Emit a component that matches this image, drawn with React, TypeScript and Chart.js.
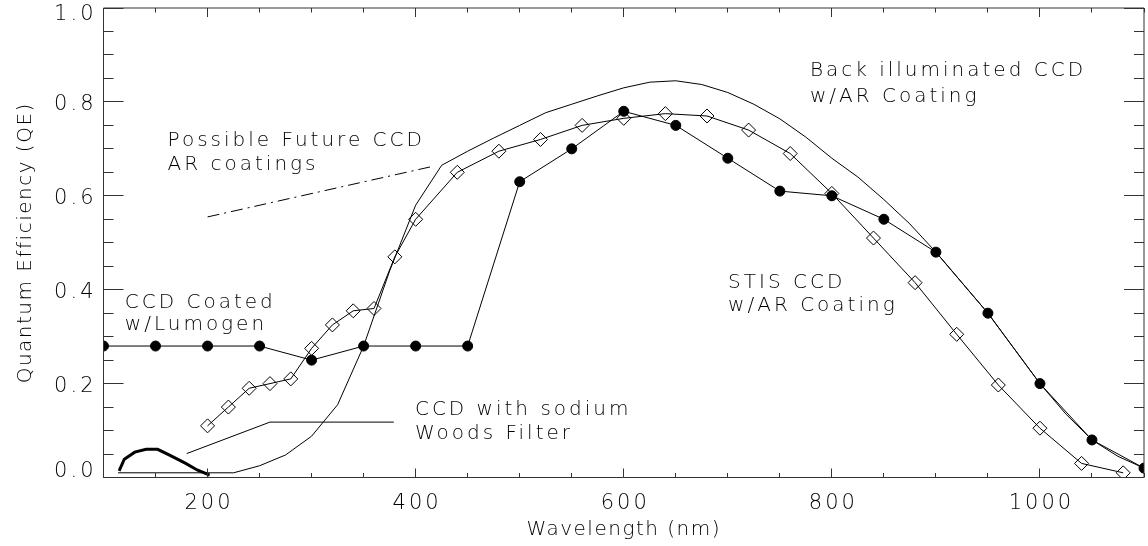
import React, { useEffect, useRef } from 'react';
import { Chart, registerables } from 'chart.js';

Chart.register(...registerables);

// ---- Data (wavelength in nm, QE as fraction) ----
const stisWavelength = [100, 150, 200, 250, 300, 350, 400, 450, 500, 550, 600, 650, 700, 750, 800, 850, 900, 950, 1000, 1050, 1100];
const stisQE = [0.28, 0.28, 0.28, 0.28, 0.25, 0.28, 0.28, 0.28, 0.63, 0.70, 0.78, 0.75, 0.68, 0.61, 0.60, 0.55, 0.48, 0.35, 0.20, 0.08, 0.02];

const lumogenWavelength = [200, 220, 240, 260, 280, 300, 320, 340, 360, 380, 400, 440, 480, 520, 560, 600, 640, 680, 720, 760, 800, 840, 880, 920, 960, 1000, 1040, 1080];
const lumogenQE = [0.11, 0.15, 0.19, 0.20, 0.21, 0.275, 0.325, 0.355, 0.36, 0.47, 0.55, 0.65, 0.695, 0.72, 0.75, 0.765, 0.775, 0.77, 0.74, 0.69, 0.605, 0.51, 0.415, 0.305, 0.197, 0.105, 0.03, 0.01];

const backIllumWavelength = [114, 225, 250, 275, 300, 325, 350, 375, 400, 425, 450, 475, 500, 525, 550, 575, 600, 625, 650, 675, 700, 725, 750, 775, 800, 825, 850, 875, 900, 925, 950, 975, 1000, 1025, 1050, 1075, 1100];
const backIllumQE = [0.01, 0.01, 0.025, 0.048, 0.088, 0.155, 0.28, 0.44, 0.58, 0.665, 0.695, 0.723, 0.75, 0.777, 0.795, 0.813, 0.83, 0.842, 0.845, 0.837, 0.82, 0.795, 0.764, 0.725, 0.68, 0.64, 0.592, 0.54, 0.48, 0.415, 0.35, 0.275, 0.20, 0.135, 0.08, 0.045, 0.02];

const woodsWavelength = [115, 120, 130, 141, 152, 163, 179, 190, 202];
const woodsQE = [0.014, 0.039, 0.054, 0.060, 0.060, 0.048, 0.030, 0.016, 0.005];

const futureWavelength = [200, 417];
const futureQE = [0.555, 0.663];

const woodsLeaderWavelength = [180, 260, 379];
const woodsLeaderQE = [0.051, 0.118, 0.118];

const xMin = 100;
const xMax = 1100;
const xLabelStep = 200;
const xTickStep = 100;
const xMinorStep = 50;
const yMin = 0;
const yMax = 1;
const yMajorStep = 0.2;
const yMinorStep = 0.05;

const xTitle = 'Wavelength (nm)';
const yTitle = 'Quantum Efficiency (QE)';

const annotationTexts = ['Possible Future CCD', 'AR coatings', 'Back illuminated CCD', 'w/AR Coating', 'CCD Coated', 'w/Lumogen', 'STIS CCD', 'w/AR Coating', 'CCD with sodium', 'Woods Filter'];
const annotationWavelength = [161.6, 161.6, 778.9, 778.9, 120.5, 120.5, 700.3, 700.3, 399.3, 399.3];
const annotationQE = [0.717, 0.6656, 0.8652, 0.81, 0.3726, 0.326, 0.4151, 0.3652, 0.1433, 0.0934];

// ---- Styling ----
const FAMILY = '"DejaVu Sans", "Liberation Sans", sans-serif';
const TEXT_COLOR = '#000';
const FRAME_COLOR = '#333';

const pts = (xs: number[], ys: number[]) => xs.map((x, i) => ({ x, y: ys[i] }));

const spacingPlugin = {
  id: 'letterSpacing',
  beforeDraw(chart: any) {
    chart.ctx.letterSpacing = '1.5px'; // axis titles
  },
  beforeDatasetsDraw(chart: any) {
    chart.ctx.letterSpacing = '3px'; // tick labels (drawn after datasets)
  },
  afterDraw(chart: any) {
    chart.ctx.letterSpacing = '0px';
  },
};

const framePlugin = {
  id: 'idlFrame',
  afterDatasetsDraw(chart: any) {
    const { ctx, chartArea, scales } = chart;
    const { left, right, top, bottom } = chartArea;
    const xs = scales.x;
    const ys = scales.y;
    ctx.save();
    ctx.strokeStyle = FRAME_COLOR;
    ctx.lineWidth = 1;
    ctx.beginPath();
    ctx.rect(left, top, right - left, bottom - top);
    const nY = Math.round((yMax - yMin) / yMinorStep);
    for (let i = 0; i <= nY; i++) {
      const v = yMin + i * yMinorStep;
      const major = Math.abs(v / yMajorStep - Math.round(v / yMajorStep)) < 1e-6;
      const len = major ? 20 : 10;
      const py = Math.floor(ys.getPixelForValue(v)) + 0.5;
      ctx.moveTo(left, py);
      ctx.lineTo(left + len, py);
      ctx.moveTo(right, py);
      ctx.lineTo(right - len, py);
    }
    const nX = Math.round((xMax - xMin) / xMinorStep);
    for (let i = 0; i <= nX; i++) {
      const v = xMin + i * xMinorStep;
      const major = v % xLabelStep === 0;
      const len = major ? 9 : 4.5;
      const px = Math.floor(xs.getPixelForValue(v)) + 0.5;
      ctx.moveTo(px, bottom);
      ctx.lineTo(px, bottom - len);
      ctx.moveTo(px, top);
      ctx.lineTo(px, top + len);
    }
    ctx.stroke();
    ctx.restore();
  },
};

const annotationPlugin = {
  id: 'textNotes',
  afterDraw(chart: any) {
    const { ctx, scales } = chart;
    ctx.save();
    ctx.letterSpacing = '3px';
    ctx.font = `200 20px ${FAMILY}`;
    ctx.fillStyle = TEXT_COLOR;
    ctx.textAlign = 'left';
    ctx.textBaseline = 'middle';
    annotationTexts.forEach((t, i) => {
      const px = scales.x.getPixelForValue(annotationWavelength[i]);
      const py = scales.y.getPixelForValue(annotationQE[i]);
      ctx.fillText(t, px, py);
    });
    ctx.restore();
  },
};

function buildConfig(): any {
  const titleFont = { family: FAMILY, size: 20, weight: '200' };
  return {
    type: 'line',
    data: {
      datasets: [
        {
          label: 'Back illuminated CCD w/AR Coating',
          data: pts(backIllumWavelength, backIllumQE),
          borderColor: '#000',
          borderWidth: 1,
          pointRadius: 0,
          fill: false,
          tension: 0,
        },
        {
          label: 'STIS CCD w/AR Coating',
          data: pts(stisWavelength, stisQE),
          borderColor: '#000',
          borderWidth: 1,
          pointRadius: 5,
          pointStyle: 'circle',
          pointBackgroundColor: '#000',
          pointBorderColor: '#000',
          pointBorderWidth: 1,
          fill: false,
          tension: 0,
        },
        {
          label: 'CCD Coated w/Lumogen',
          data: pts(lumogenWavelength, lumogenQE),
          borderColor: '#000',
          borderWidth: 1,
          pointRadius: 7,
          pointStyle: 'rectRot',
          pointBackgroundColor: 'rgba(0,0,0,0)',
          pointBorderColor: '#000',
          pointBorderWidth: 1,
          fill: false,
          tension: 0,
        },
        {
          label: 'CCD with sodium Woods Filter',
          data: pts(woodsWavelength, woodsQE),
          borderColor: '#000',
          borderWidth: 3,
          pointRadius: 0,
          fill: false,
          tension: 0,
        },
        {
          label: 'Possible Future CCD AR coatings',
          data: pts(futureWavelength, futureQE),
          borderColor: '#000',
          borderWidth: 1,
          borderDash: [12, 5, 2, 5],
          pointRadius: 0,
          fill: false,
          tension: 0,
        },
        {
          label: 'Woods filter pointer',
          data: pts(woodsLeaderWavelength, woodsLeaderQE),
          borderColor: '#000',
          borderWidth: 1,
          pointRadius: 0,
          fill: false,
          tension: 0,
        },
      ],
    },
    options: {
      animation: false,
      responsive: false,
      events: [],
      layout: { padding: { top: 6.5, right: 2, left: 0, bottom: 0 } },
      plugins: {
        legend: { display: false },
        tooltip: { enabled: false },
      },
      scales: {
        x: {
          type: 'linear',
          min: xMin,
          max: xMax,
          grid: { display: false, drawTicks: false },
          border: { display: false },
          ticks: {
            z: 1,
            stepSize: xTickStep,
            padding: 13,
            labelOffset: 1.5,
            maxRotation: 0,
            autoSkip: false,
            color: TEXT_COLOR,
            font: { family: FAMILY, size: 21, weight: '200' },
            callback: (v: number) => (v % xLabelStep === 0 ? String(v) : ''),
          },
          title: {
            display: true,
            text: xTitle,
            color: TEXT_COLOR,
            font: titleFont,
            padding: { top: 0, bottom: 4 },
          },
          afterFit: (s: any) => {
            s.height = 68.5;
            s.paddingLeft = 0;
            s.paddingRight = 0;
          },
        },
        y: {
          type: 'linear',
          min: yMin,
          max: yMax,
          grid: { display: false, drawTicks: false },
          border: { display: false },
          ticks: {
            z: 1,
            stepSize: yMajorStep,
            padding: 7,
            color: TEXT_COLOR,
            // IDL keeps the end labels inside the frame: shift them via an empty line
            callback: (v: number) => {
              const s = Number(v).toFixed(1);
              return v <= yMin + 1e-9 ? [s, ''] : ['', s];
            },
            font: (c: any) => {
              const v = c.tick ? c.tick.value : 0.5;
              let lh = '5px';
              if (v >= yMax - 1e-9) lh = '14px';
              else if (v <= yMin + 1e-9) lh = '12px';
              return { family: FAMILY, size: 21, weight: '200', lineHeight: lh };
            },
          },
          title: {
            display: true,
            text: yTitle,
            color: TEXT_COLOR,
            font: titleFont,
            padding: { top: 14, bottom: 0 },
          },
          afterFit: (s: any) => {
            s.width = 103.5;
            s.paddingTop = 0;
            s.paddingBottom = 0;
          },
        },
      },
    },
    plugins: [spacingPlugin, framePlugin, annotationPlugin],
  };
}

export default function App() {
  const ref = useRef<HTMLCanvasElement>(null);
  useEffect(() => {
    const canvas = ref.current;
    if (!canvas) return;
    const chart = new Chart(canvas, buildConfig());
    return () => chart.destroy();
  }, []);
  return (
    <div
      style={{
        position: 'absolute',
        left: 0,
        top: 0,
        width: 1148,
        height: 546,
        overflow: 'hidden',
        background: '#fff',
      }}
    >
      <canvas ref={ref} width={1152} height={546} style={{ display: 'block' }} />
    </div>
  );
}
